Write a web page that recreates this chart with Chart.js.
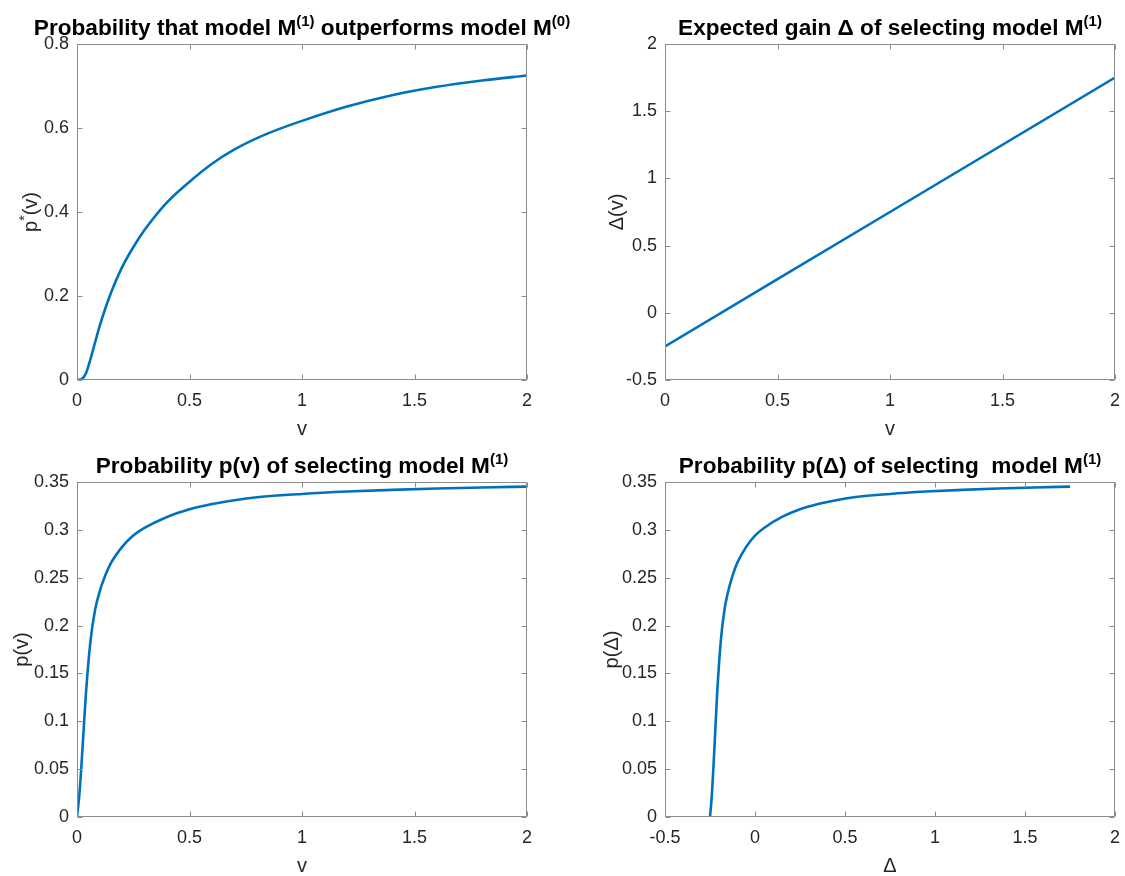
<!DOCTYPE html>
<html>
<head>
<meta charset="utf-8">
<script src="https://cdn.jsdelivr.net/npm/chart.js@4.4.1/dist/chart.umd.min.js"></script>
<style>
  html, body { margin: 0; padding: 0; background: #ffffff; }
  #fig { position: relative; width: 1125px; height: 876px; overflow: hidden; background: #ffffff; }
  #fig canvas { position: absolute; }
</style>
</head>
<body>
<div id="fig">
  <canvas id="cStar" width="600" height="438" style="left:0px;top:0px"></canvas>
  <canvas id="cGain" width="585" height="438" style="left:560px;top:0px"></canvas>
  <canvas id="cSelV" width="600" height="438" style="left:0px;top:438px"></canvas>
  <canvas id="cSelD" width="585" height="438" style="left:560px;top:438px"></canvas>
</div>
<script>
// ---- data -------------------------------------------------------------
// p*(v): probability that M(1) outperforms M(0)
const vStar = [0, 0.02, 0.04, 0.06, 0.08, 0.1, 0.125, 0.15, 0.2, 0.25, 0.3, 0.4, 0.5,
               0.6, 0.7, 0.8, 0.9, 1.0, 1.2, 1.4, 1.6, 1.8, 2.0];
const pStar = [0, 0.002, 0.016, 0.05, 0.089, 0.127, 0.169, 0.206, 0.268, 0.316, 0.357, 0.423, 0.472,
               0.515, 0.549, 0.576, 0.598, 0.617, 0.651, 0.678, 0.698, 0.713, 0.725];

// Δ(v): expected gain of selecting M(1)
const vGain = [0, 1, 2];
const gain  = [-0.25, 0.75, 1.75];

// p(v): probability of selecting M(1)
const vSel = [0, 0.01, 0.02, 0.03, 0.04, 0.06, 0.08, 0.1, 0.125, 0.15, 0.2, 0.25, 0.3, 0.4, 0.5,
              0.6, 0.7, 0.8, 1.0, 1.2, 1.4, 1.6, 1.8, 2.0];
const pSel = [0, 0.022, 0.055, 0.093, 0.13, 0.184, 0.216, 0.235, 0.252, 0.265, 0.282, 0.294, 0.302, 0.3135, 0.3215,
              0.327, 0.331, 0.334, 0.3375, 0.340, 0.3418, 0.3432, 0.3443, 0.3452];
// the same probabilities against Δ
const deltaSel = [-0.25, -0.24, -0.23, -0.22, -0.21, -0.19, -0.17, -0.15, -0.125, -0.1, -0.05, 0, 0.05, 0.15, 0.25,
                  0.35, 0.45, 0.55, 0.75, 0.95, 1.15, 1.35, 1.55, 1.75];

// ---- ticks -------------------------------------------------------------
const ticksV        = [0, 0.5, 1, 1.5, 2];
const ticksVLabels  = ['0', '0.5', '1', '1.5', '2'];
const ticksD        = [-0.5, 0, 0.5, 1, 1.5, 2];
const ticksDLabels  = ['-0.5', '0', '0.5', '1', '1.5', '2'];
const ticksPStar       = [0, 0.2, 0.4, 0.6, 0.8];
const ticksPStarLabels = ['0', '0.2', '0.4', '0.6', '0.8'];
const ticksP        = [0, 0.05, 0.1, 0.15, 0.2, 0.25, 0.3, 0.35];
const ticksPLabels  = ['0', '0.05', '0.1', '0.15', '0.2', '0.25', '0.3', '0.35'];

// ---- style -------------------------------------------------------------
const FONT = '"Liberation Sans", Arial, Helvetica, sans-serif';
const LINE_COLOR = '#0072BD';
const AXIS_COLOR = '#8c8c8c';
const TEXT_COLOR = '#262626';
const TICK_SIZE = 18;
const LABEL_SIZE = 20;
const TITLE_SIZE = 22.6;

Chart.defaults.font.family = FONT;
Chart.defaults.font.size = TICK_SIZE;
Chart.defaults.color = TEXT_COLOR;

// draws rich text (segments with optional superscript) centred on x=0
function richText(ctx, segs, size, bold) {
  const base = (bold ? 'bold ' : '') + size + 'px ' + FONT;
  const supSize = Math.round(size * 0.68);
  const sup = (bold ? 'bold ' : '') + supSize + 'px ' + FONT;
  let total = 0;
  const widths = segs.map(s => {
    ctx.font = s.sup ? sup : base;
    const w = ctx.measureText(s.t).width;
    total += w;
    return w;
  });
  let x = -total / 2;
  segs.forEach((s, i) => {
    ctx.font = s.sup ? sup : base;
    ctx.fillText(s.t, x, s.sup ? -size * 0.4 : 0);
    x += widths[i];
  });
}

// MATLAB-like frame: full box, inward ticks on all four sides, title and labels
const framePlugin = {
  id: 'frame',
  afterDraw(chart, args, opts) {
    const ctx = chart.ctx;
    const a = chart.chartArea;
    const xs = chart.scales.x, ys = chart.scales.y;
    const L = Math.round(a.left) + 0.5, R = Math.round(a.right) - 0.5;
    const T = Math.round(a.top) + 0.5, B = Math.round(a.bottom) - 0.5;
    const tl = 5;
    ctx.save();
    ctx.strokeStyle = AXIS_COLOR;
    ctx.lineWidth = 1;
    ctx.beginPath();
    ctx.rect(L, T, R - L, B - T);
    xs.ticks.forEach(t => {
      const px = Math.round(xs.getPixelForValue(t.value)) + 0.5;
      ctx.moveTo(px, B); ctx.lineTo(px, B - tl);
      ctx.moveTo(px, T); ctx.lineTo(px, T + tl);
    });
    ys.ticks.forEach(t => {
      const py = Math.round(ys.getPixelForValue(t.value)) + 0.5;
      ctx.moveTo(L, py); ctx.lineTo(L + tl, py);
      ctx.moveTo(R, py); ctx.lineTo(R - tl, py);
    });
    ctx.stroke();

    ctx.textBaseline = 'alphabetic';
    ctx.textAlign = 'left';

    // title
    ctx.fillStyle = '#000000';
    ctx.save();
    ctx.translate((a.left + a.right) / 2, a.top - 9);
    richText(ctx, opts.title, TITLE_SIZE, true);
    ctx.restore();

    // x label
    ctx.fillStyle = TEXT_COLOR;
    ctx.save();
    ctx.translate((a.left + a.right) / 2, a.bottom + 55);
    richText(ctx, opts.xlabel, LABEL_SIZE, false);
    ctx.restore();

    // y label
    ctx.save();
    ctx.translate(opts.ylabelX, (a.top + a.bottom) / 2);
    ctx.rotate(-Math.PI / 2);
    richText(ctx, opts.ylabel, LABEL_SIZE, false);
    ctx.restore();
    ctx.restore();
  }
};

function axis(min, max, tickVals, tickLabels, isX, size) {
  return {
    type: 'linear',
    min: min,
    max: max,
    grid: { display: false, drawTicks: false },
    border: { display: false },
    afterBuildTicks: s => { s.ticks = tickVals.map(v => ({ value: v })); },
    afterFit: s => { if (isX) s.height = size; else s.width = size; },
    ticks: {
      padding: isX ? 10 : 8,
      color: TEXT_COLOR,
      font: { size: TICK_SIZE },
      maxRotation: 0,
      autoSkip: false,
      callback: (val) => {
        const i = tickVals.findIndex(t => Math.abs(t - val) < 1e-9);
        return i >= 0 ? tickLabels[i] : '';
      }
    }
  };
}

function makeChart(id, xs, ys, cfg) {
  const pts = xs.map((x, i) => ({ x: x, y: ys[i] }));
  return new Chart(document.getElementById(id), {
    type: 'line',
    data: {
      datasets: [{
        data: pts,
        borderColor: LINE_COLOR,
        borderWidth: 2.6,
        pointRadius: 0,
        fill: false,
        cubicInterpolationMode: 'monotone',
        borderJoinStyle: 'round'
      }]
    },
    options: {
      responsive: false,
      animation: false,
      devicePixelRatio: 1,
      layout: { padding: cfg.padding },
      scales: {
        x: axis(cfg.xmin, cfg.xmax, cfg.xt, cfg.xl, true, cfg.xh),
        y: axis(cfg.ymin, cfg.ymax, cfg.yt, cfg.yl, false, cfg.yw)
      },
      plugins: {
        legend: { display: false },
        tooltip: { enabled: false },
        frame: { title: cfg.title, xlabel: cfg.xlabel, ylabel: cfg.ylabel, ylabelX: cfg.ylabelX }
      }
    },
    plugins: [framePlugin]
  });
}

makeChart('cStar', vStar, pStar, {
  xmin: 0, xmax: 2, xt: ticksV, xl: ticksVLabels,
  ymin: 0, ymax: 0.8, yt: ticksPStar, yl: ticksPStarLabels,
  padding: { left: 0, top: 44, right: 73, bottom: 0 }, xh: 58, yw: 77,
  title: [{ t: 'Probability that model M' }, { t: '(1)', sup: true }, { t: ' outperforms model M' }, { t: '(0)', sup: true }],
  xlabel: [{ t: 'v' }],
  ylabel: [{ t: 'p' }, { t: '*', sup: true }, { t: '(v)' }],
  ylabelX: 37
});

makeChart('cGain', vGain, gain, {
  xmin: 0, xmax: 2, xt: ticksV, xl: ticksVLabels,
  ymin: -0.5, ymax: 2, yt: ticksD, yl: ticksDLabels,
  padding: { left: 0, top: 44, right: 30, bottom: 0 }, xh: 58, yw: 105,
  title: [{ t: 'Expected gain \u0394 of selecting model M' }, { t: '(1)', sup: true }],
  xlabel: [{ t: 'v' }],
  ylabel: [{ t: '\u0394(v)' }],
  ylabelX: 63
});

makeChart('cSelV', vSel, pSel, {
  xmin: 0, xmax: 2, xt: ticksV, xl: ticksVLabels,
  ymin: 0, ymax: 0.35, yt: ticksP, yl: ticksPLabels,
  padding: { left: 0, top: 44, right: 73, bottom: 0 }, xh: 59, yw: 77,
  title: [{ t: 'Probability p(v) of selecting model M' }, { t: '(1)', sup: true }],
  xlabel: [{ t: 'v' }],
  ylabel: [{ t: 'p(v)' }],
  ylabelX: 28
});

makeChart('cSelD', deltaSel, pSel, {
  xmin: -0.5, xmax: 2, xt: ticksD, xl: ticksDLabels,
  ymin: 0, ymax: 0.35, yt: ticksP, yl: ticksPLabels,
  padding: { left: 0, top: 44, right: 30, bottom: 0 }, xh: 59, yw: 105,
  title: [{ t: 'Probability p(\u0394) of selecting  model M' }, { t: '(1)', sup: true }],
  xlabel: [{ t: '\u0394' }],
  ylabel: [{ t: 'p(\u0394)' }],
  ylabelX: 58
});
</script>
</body>
</html>
